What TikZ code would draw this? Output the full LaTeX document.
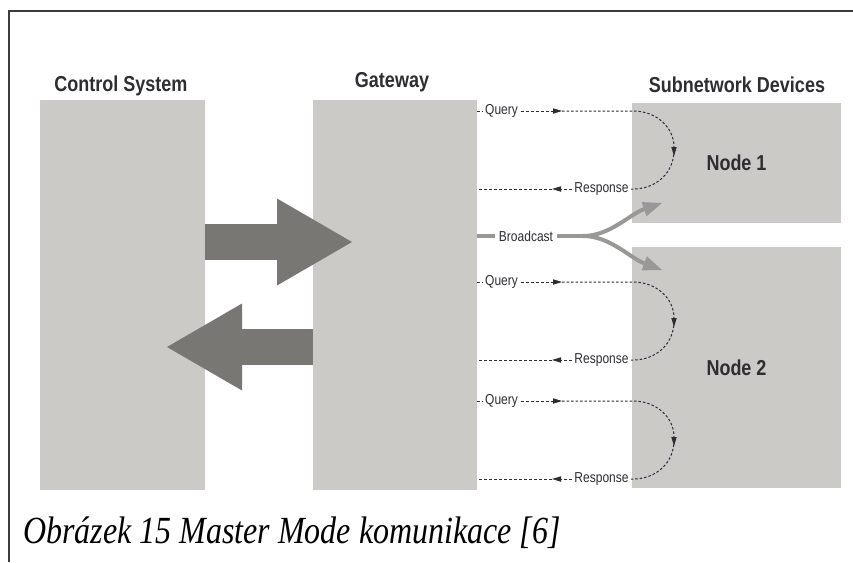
\documentclass[tikz,border=0pt]{standalone}
\usepackage{fontspec}
\setmainfont{Liberation Serif}
\setsansfont{Liberation Sans}
\usepackage{graphicx}
\usepackage{tikz}
\usetikzlibrary{arrows.meta,positioning,calc}
\definecolor{boxgray}{RGB}{203,202,198}
\definecolor{bigarr}{RGB}{120,119,116}
\definecolor{bcgray}{RGB}{152,152,150}
\definecolor{inkgray}{RGB}{45,45,50}
\definecolor{framegray}{RGB}{60,60,60}
\newcommand{\tallt}[1]{\scalebox{1}[1.2]{#1}}
\tikzset{
  block/.style={fill=boxgray, inner sep=0pt, text=inkgray, font=\sffamily\bfseries\fontsize{18}{20}\selectfont},
  title/.style={inner sep=0pt, anchor=base, text=inkgray, font=\sffamily\bfseries\fontsize{18}{20}\selectfont},
  msg/.style={inner sep=2.5pt, text=inkgray, font=\sffamily\fontsize{12}{14}\selectfont},
  caption/.style={inner sep=0pt, anchor=base west, font=\itshape\fontsize{32}{36}\selectfont},
  bigarrow/.style={bigarr, line width=36pt, -{Triangle[length=75pt, width=87pt, line width=0pt]}},
  bline/.style={bcgray, line width=4pt},
  bctip/.style={-{Triangle[length=19pt, width=15pt, line width=0pt]}},
  dashline/.style={inkgray, line width=1pt, dash pattern=on 3pt off 2pt},
  dotline/.style={inkgray, line width=1pt, dash pattern=on 2.5pt off 2pt},
  msgtip/.style={-{Triangle[length=9pt, width=5.5pt, line width=0pt]}},
}

\begin{document}
\begin{tikzpicture}[x=1pt, y=-1pt]
  \useasboundingbox (0,0) rectangle (853,562);
  \draw[framegray, line width=1.5pt] (853,11) -- (9,11) -- (9,562);

  % columns
  \node[block, minimum width=165pt, minimum height=390pt] (ctrl) at (122.5,295) {};
  \node[block, minimum width=164pt, minimum height=390pt] (gw) at (395,295) {};
  \node[block, minimum width=209pt, minimum height=120pt] (n1) at (736.5,163) {\tallt{Node 1}};
  \node[block, minimum width=209pt, minimum height=241pt] (n2) at (736.5,367.5) {\tallt{Node 2}};

  \node[title] (tctrl) at (121,91) {\tallt{Control System}};
  \node[title] (tgw) at (392,87.5) {\tallt{Gateway}};
  \node[title] (tsub) at (737,92.5) {\tallt{Subnetwork Devices}};

  % control system <-> gateway
  \coordinate (toGw) at (352,242);
  \coordinate (toCtrl) at (167,347);
  \draw[bigarrow] (ctrl.east |- toGw) -- (toGw);
  \draw[bigarrow] (gw.west |- toCtrl) -- (toCtrl);

  % query / response
  \foreach \i/\qy/\ry in {1/111/189, 2/282/360, 3/401/479} {
    \node[msg] (q\i) at (501.5,\qy) {\tallt{Query}};
    \node[msg] (r\i) at (601.5,\ry) {\tallt{Response}};
    \coordinate (qt\i) at (562,\qy);
    \coordinate (rt\i) at (552,\ry);
    \coordinate (cm\i) at (674,{(\qy+\ry)/2});
    \draw[dotline] (gw.east |- q\i) -- (q\i);
    \draw[dashline, msgtip] (q\i) -- (qt\i);
    \draw[dotline, msgtip] (qt\i) -- (633,\qy) .. controls (656,\qy) and (674,{\qy+16}) .. ($(cm\i)+(0,6)$);
    \draw[dotline] (cm\i) .. controls (674,{\ry-16}) and (656,\ry) .. (633,\ry) -- (r\i);
    \draw[dashline, msgtip] (r\i) -- (rt\i);
    \draw[dashline] (rt\i) -- (gw.east |- r\i);
  }

  % broadcast
  \node[msg, inner sep=3.5pt] (bc) at (526,236) {\tallt{Broadcast}};
  \coordinate (split) at (583,236);
  \coordinate (b1) at (662,203);
  \coordinate (b2) at (662,270);
  \draw[bline] (gw.east |- bc) -- (bc);
  \draw[bline] (bc) -- (split);
  \draw[bline, bctip] (split) .. controls (610,236) and (630,214) .. (b1);
  \draw[bline, bctip] (split) .. controls (610,236) and (630,258) .. (b2);

  \node[caption] (cap) at (23,543) {\tallt{Obrázek 15 Master Mode komunikace [6]}};
\end{tikzpicture}
\end{document}
